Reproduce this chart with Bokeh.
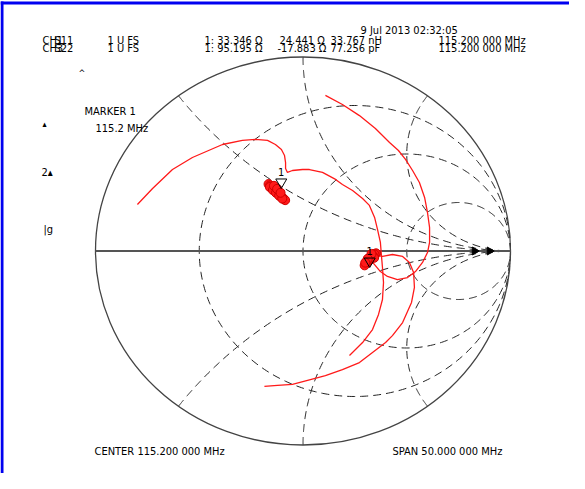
import numpy as np
from bokeh.plotting import figure
from bokeh.models import Range1d, Label
from bokeh.embed import file_html
from bokeh.resources import INLINE

# ---- Smith chart graticule values (normalised) ----
r_grid = [1/3, 1.0, 3.0]
x_grid = [0.5, 1.0, 2.0, -0.5, -1.0, -2.0]

# ---- trace 1 (CH1, S11) reflection coefficient, re / im ----
s11_re = [-0.798, -0.725, -0.629, -0.533, -0.388, -0.292, -0.229, -0.171, -0.133, -0.104,
          -0.089, -0.084, -0.084, -0.075, -0.051, -0.002, 0.031, 0.094, 0.157, 0.190,
          0.239, 0.287, 0.320, 0.345, 0.359, 0.373, 0.378, 0.383, 0.388, 0.383,
          0.364, 0.335, 0.287, 0.224]
s11_im = [0.240, 0.322, 0.420, 0.482, 0.549, 0.570, 0.575, 0.570, 0.549, 0.523,
          0.492, 0.456, 0.425, 0.405, 0.415, 0.420, 0.420, 0.405, 0.369, 0.343,
          0.312, 0.271, 0.235, 0.173, 0.111, 0.044, -0.023, -0.085, -0.162, -0.250,
          -0.327, -0.405, -0.472, -0.539]

# ---- trace 2 (CH3, S22) ----
s22_re = [0.108, 0.190, 0.272, 0.349, 0.417, 0.460, 0.494, 0.528, 0.561, 0.586,
          0.600, 0.610, 0.610, 0.600, 0.576, 0.542, 0.504, 0.455, 0.407, 0.373,
          0.349, 0.325, 0.340, 0.383, 0.431, 0.480, 0.513, 0.533, 0.537, 0.523,
          0.480, 0.431, 0.398, 0.335, 0.272, 0.190, 0.108, 0.022, -0.051, -0.123, -0.186]
s22_im = [0.802, 0.755, 0.698, 0.631, 0.559, 0.518, 0.472, 0.415, 0.353, 0.276,
          0.198, 0.121, 0.044, -0.008, -0.059, -0.106, -0.137, -0.147, -0.131, -0.106,
          -0.075, -0.045, -0.020, -0.028, -0.018, -0.028, -0.059, -0.111, -0.188, -0.265,
          -0.369, -0.436, -0.472, -0.523, -0.575, -0.611, -0.642, -0.667, -0.688, -0.693, -0.698]

# dense sample clusters around the markers
clus1_re = [-0.166, -0.158, -0.150, -0.142, -0.135, -0.128, -0.120, -0.113, -0.106, -0.099,
            -0.092, -0.086, -0.160, -0.145, -0.130, -0.115, -0.100, -0.140, -0.125, -0.108]
clus1_im = [0.345, 0.338, 0.330, 0.322, 0.314, 0.306, 0.298, 0.290, 0.282, 0.275,
            0.268, 0.262, 0.330, 0.314, 0.300, 0.285, 0.270, 0.336, 0.320, 0.300]
clus2_re = [0.352, 0.345, 0.338, 0.331, 0.324, 0.317, 0.310, 0.303, 0.297, 0.343, 0.330, 0.312, 0.300]
clus2_im = [-0.012, -0.018, -0.026, -0.034, -0.042, -0.050, -0.058, -0.066, -0.074, -0.035, -0.015, -0.040, -0.060]

# marker 1 impedances (ohm) and Z0
Z0 = 50.0
mk_R = [33.346, 95.195]
mk_X = [24.441, -17.883]

# reference position arrows on the real axis
ref_re = [0.827, 0.899]
ref_im = [0.0, 0.0]

# ---- geometry (page pixels) ----
W, H = 569, 473
CX, CY = 310.5, 258.5
SX, SY = 207.5, 194.0
def X(px):
    return (px - CX) / SX
def Y(py):
    return (CY - py) / SY

p = figure(width=W, height=H, output_backend="svg", toolbar_location=None,
           x_range=Range1d(X(8), X(8 + W)), y_range=Range1d(Y(8 + H), Y(8)),
           min_border=0, outline_line_color=None, background_fill_color="white",
           border_fill_color="white")
p.axis.visible = False
p.grid.visible = False

BLUE = "#0000f0"
p.quad(left=[X(8)], right=[X(585)], top=[Y(9)], bottom=[Y(12)], color=BLUE, line_width=0)
p.quad(left=[X(8)], right=[X(11)], top=[Y(9)], bottom=[Y(489)], color=BLUE, line_width=0)

GRID = "#222222"
DASH = "8 5"
for r in r_grid:
    t = np.linspace(0, 2 * np.pi, 400)
    c, R = r / (1 + r), 1 / (1 + r)
    p.line(c + R * np.cos(t), R * np.sin(t), line_color=GRID, line_dash=DASH, line_width=1)
for xv in x_grid:
    rr = np.concatenate([[0], np.logspace(-3, 3, 400)])
    z = rr + 1j * xv
    g = (z - 1) / (z + 1)
    p.line(g.real, g.imag, line_color=GRID, line_dash=DASH, line_width=1)

p.ellipse(x=[0], y=[0], width=[2], height=[2], fill_color=None, line_color="#444444", line_width=1.3)
p.line([-1, 1], [0, 0], line_color="#555555", line_width=2)

RED = "#ff1a1a"
p.line(s11_re, s11_im, line_color=RED, line_width=1.3)
p.line(s22_re, s22_im, line_color=RED, line_width=1.3)
p.scatter(clus1_re, clus1_im, marker="circle", size=9, fill_color=RED, line_color="#d00000", line_width=1)
p.scatter(clus2_re, clus2_im, marker="circle", size=9, fill_color=RED, line_color="#d00000", line_width=1)

zm = (np.array(mk_R) + 1j * np.array(mk_X)) / Z0
gm = (zm - 1) / (zm + 1)
p.scatter(gm.real, gm.imag + 6 / SY, marker="inverted_triangle", size=11,
          fill_color=None, line_color="black", line_width=1)

FONT = "DejaVu Sans Condensed, Liberation Sans Narrow, Roboto, sans-serif"
for g in gm:
    p.add_layout(Label(x=g.real, y=g.imag + 16 / SY, text="1", text_font=FONT,
                       text_font_size="11px", text_align="center", text_baseline="middle",
                       text_color="black"))

p.scatter(ref_re, ref_im, marker="triangle", angle=-np.pi / 2, size=8,
          fill_color="black", line_color="black")

def lab(text, px, py, size="11px", align="left"):
    p.add_layout(Label(x=X(px), y=Y(py), text=text, text_font=FONT, text_font_size=size,
                       text_align=align, text_baseline="middle", text_color="black"))

lab("9 Jul 2013  02:32:05", 368, 38)
lab("CH1", 50, 48); lab("S11", 62, 48); lab("1 U FS", 115, 48)
lab("CH3", 50, 56); lab("S22", 62, 56); lab("1 U FS", 115, 56)
lab("1: 33.346 Ω", 212, 48); lab("24.441 Ω", 287, 48); lab("33.767 nH", 338, 48)
lab("1: 95.195 Ω", 212, 56); lab("-17.883 Ω", 285, 56); lab("77.256 pF", 338, 56)
lab("115.200 000 MHz", 446, 48); lab("115.200 000 MHz", 446, 56)
lab("^", 86, 80, "9px")
lab("MARKER 1", 92, 119)
lab("115.2 MHz", 103, 136)
lab("▴", 50, 131, "9px")
lab("2▴", 49, 180)
lab("|g", 51, 237)
lab("CENTER 115.200 000 MHz", 102, 459)
lab("SPAN  50.000 000 MHz", 400, 459)

open("out.html", "w").write(file_html(p, INLINE))
